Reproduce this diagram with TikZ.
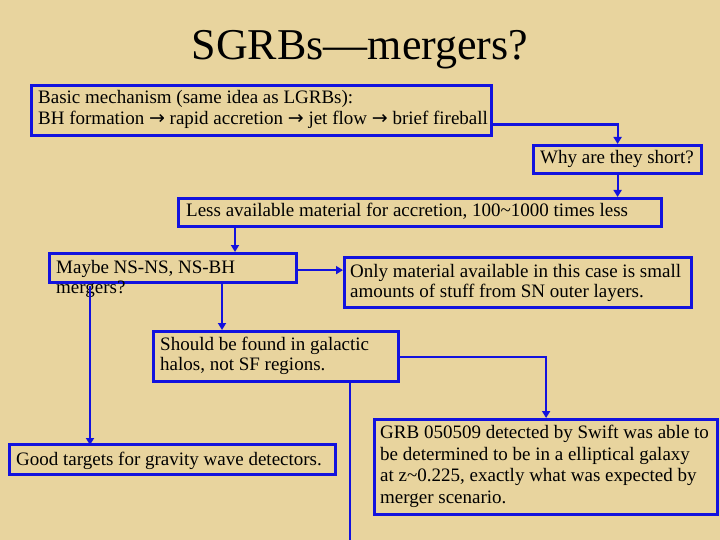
\documentclass[tikz,border=0pt]{standalone}
\usepackage{fontspec}
\setmainfont{Liberation Serif}
\newfontfamily\arrfont{DejaVu Sans}
\usetikzlibrary{arrows.meta,calc}
\definecolor{bgtan}{RGB}{232,212,158}
\definecolor{boxblue}{RGB}{18,18,222}
\newcommand{\rarr}{{\arrfont\char"2192}}
\begin{document}
\begin{tikzpicture}[x=1pt,y=-1pt,
  box/.style={draw=boxblue,line width=3.2pt,rectangle,anchor=north west,inner sep=0pt},
  conn/.style={draw=boxblue,line width=2.2pt},
  arr/.style={conn,-{Triangle[width=8pt,length=7pt]}},
  txt/.style={anchor=base west,inner sep=0pt,align=left,font=\fontsize{19}{20.5}\selectfont}]
\fill[bgtan] (0,0) rectangle (720,540);
\useasboundingbox (0,0) rectangle (720,540);
\node[anchor=base,inner sep=0pt,font=\fontsize{44}{48}\selectfont] (title) at (360,60) {SGRBs—mergers?};
% boxes (text nodes anchored at the baseline of their last line)
\node[box,minimum width=460pt,minimum height=50pt] (basic) at (30,84) {};
\node[txt] (basict) at (38,124.5) {Basic mechanism (same idea as LGRBs):\\BH formation \rarr{} rapid accretion \rarr{} jet flow \rarr{} brief fireball};
\node[box,minimum width=168pt,minimum height=28pt] (why) at (532,144) {};
\node[txt] (whyt) at (540,164) {Why are they short?};
\node[box,minimum width=483pt,minimum height=28pt] (less) at (177,197) {};
\node[txt] (lesst) at (186,217) {Less available material for accretion, 100\char"007E 1000 times less};
\node[box,minimum width=247pt,minimum height=29pt] (maybe) at (48,252) {};
\node[txt] (maybet) at (56,293.5) {Maybe NS-NS, NS-BH\\mergers?};
\node[box,minimum width=347pt,minimum height=50pt] (only) at (343,256) {};
\node[txt] (onlyt) at (350,297.5) {Only material available in this case is small\\amounts of stuff from SN outer layers.};
\node[box,minimum width=245pt,minimum height=50pt] (should) at (152,330) {};
\node[txt] (shouldt) at (160,370.5) {Should be found in galactic\\halos, not SF regions.};
\node[box,minimum width=326pt,minimum height=30pt] (good) at (8,443) {};
\node[txt] (goodt) at (16,465) {Good targets for gravity wave detectors.};
\node[box,minimum width=343pt,minimum height=95pt] (grb) at (373,418) {};
\node[txt,font=\fontsize{19}{21.5}\selectfont] (grbt) at (380,503) {GRB 050509 detected by Swift was able to\\be determined to be in a elliptical galaxy\\at z\char"007E 0.225, exactly what was expected by\\merger scenario.};
\coordinate (bottomend) at (347,545);
% connectors
\draw[arr] ([yshift=-14pt]basic.east) -| (why.north);
\draw[arr] (why.south) -- (why.south |- less.north);
\draw[arr] ([xshift=58pt]less.south west) -- ([xshift=58pt]less.south west |- maybe.north);
\draw[arr] ([yshift=-2pt]maybe.east) -- ([yshift=-2pt]maybe.east -| only.west);
\draw[arr] ([xshift=174pt]maybe.south west) -- ([xshift=174pt]maybe.south west |- should.north);
\draw[arr] ([xshift=42pt,yshift=-2pt]maybe.south west) -- ([xshift=42pt,yshift=-2pt]maybe.south west |- good.north);
\draw[arr] (should.east) -| (grb.north);
\draw[conn] ([xshift=-50pt]should.south east) -- ([xshift=-50pt]should.south east |- bottomend);
\end{tikzpicture}
\end{document}
